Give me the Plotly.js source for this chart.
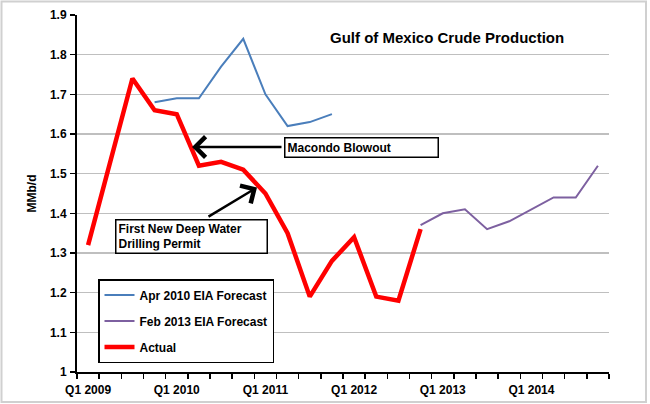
<!DOCTYPE html>
<html>
<head>
<meta charset="utf-8">
<script src="https://cdn.plot.ly/plotly-3.0.1.min.js"></script>
<style>
  html, body { margin: 0; padding: 0; background: #ffffff; }
  #chart { width: 650px; height: 404px; }
</style>
</head>
<body>
<div id="chart"></div>
<script>
// Quarterly categories, Q1 2009 .. Q4 2014
const quarters = [
  "Q1 2009", "Q2 2009", "Q3 2009", "Q4 2009",
  "Q1 2010", "Q2 2010", "Q3 2010", "Q4 2010",
  "Q1 2011", "Q2 2011", "Q3 2011", "Q4 2011",
  "Q1 2012", "Q2 2012", "Q3 2012", "Q4 2012",
  "Q1 2013", "Q2 2013", "Q3 2013", "Q4 2013",
  "Q1 2014", "Q2 2014", "Q3 2014", "Q4 2014"
];
const tickLabels = ["Q1 2009", "Q1 2010", "Q1 2011", "Q1 2012", "Q1 2013", "Q1 2014"];

// Gulf of Mexico crude production, million barrels per day
const actualQuarters = quarters.slice(0, 16);
const actual = [1.32, 1.53, 1.74, 1.66, 1.65, 1.52, 1.53, 1.51,
                1.45, 1.35, 1.19, 1.28, 1.34, 1.19, 1.18, 1.36];

const apr2010Quarters = quarters.slice(3, 12);
const apr2010Forecast = [1.68, 1.69, 1.69, 1.77, 1.84, 1.70, 1.62, 1.63, 1.65];

const feb2013Quarters = quarters.slice(15, 24);
const feb2013Forecast = [1.37, 1.40, 1.41, 1.36, 1.38, 1.41, 1.44, 1.44, 1.52];

const W = 650, H = 404;
const M = { l: 77, r: 41, t: 15, b: 32 };
const plotW = W - M.l - M.r, plotH = H - M.t - M.b;
// pixel -> paper helpers for the frame and text boxes
const px = x => (x - M.l) / plotW;
const py = y => (H - M.b - y) / plotH;

const FAMILY = "Liberation Sans, Arial, sans-serif";
const bold = size => ({ family: FAMILY, size: size, color: "#000000", weight: 700 });

const traces = [
  {
    x: apr2010Quarters, y: apr2010Forecast, name: "Apr 2010 EIA Forecast",
    type: "scatter", mode: "lines", legendgroup: "a",
    line: { color: "#4a7ebb", width: 2 }
  },
  {
    x: feb2013Quarters, y: feb2013Forecast, name: "Feb 2013 EIA Forecast",
    type: "scatter", mode: "lines", legendgroup: "b",
    line: { color: "#7d60a0", width: 2 }
  },
  {
    x: actualQuarters, y: actual, name: "Actual",
    type: "scatter", mode: "lines", legendgroup: "c",
    line: { color: "#ff0000", width: 4.5 }
  }
];

const layout = {
  width: W, height: H,
  margin: M,
  paper_bgcolor: "#ffffff", plot_bgcolor: "#ffffff",
  font: bold(12),
  showlegend: true,
  legend: {
    x: px(98), y: py(279), xanchor: "left", yanchor: "top",
    bgcolor: "#ffffff", bordercolor: "#000000", borderwidth: 1.5,
    font: bold(12),
    itemwidth: 30, tracegroupgap: 7, traceorder: "grouped"
  },
  xaxis: {
    type: "category",
    categoryorder: "array", categoryarray: quarters,
    range: [-0.5, quarters.length - 0.5],
    tickmode: "array",
    tickvals: quarters,
    ticktext: quarters.map(q => tickLabels.includes(q) ? q : ""),
    tickson: "boundaries",
    tickangle: 0,
    ticklabelstandoff: 6,
    ticks: "outside", ticklen: 5, tickwidth: 1.5, tickcolor: "#000000",
    showline: true, linecolor: "#000000", linewidth: 2,
    showgrid: false, zeroline: false,
    tickfont: bold(12),
    fixedrange: true
  },
  yaxis: {
    range: [1, 1.9], dtick: 0.1, tick0: 1,
    ticks: "outside", ticklen: 5, tickwidth: 1.5, tickcolor: "#000000",
    showline: true, linecolor: "#000000", linewidth: 2,
    showgrid: true, gridcolor: "#bfbfbf", gridwidth: 1.5,
    zeroline: false,
    tickfont: bold(12),
    ticklabelstandoff: 1,
    title: { text: "MMb/d", standoff: 11, font: bold(12) },
    fixedrange: true
  },
  shapes: [
    // outer chart frame
    {
      type: "rect", xref: "paper", yref: "paper",
      x0: px(1.5), x1: px(646), y0: py(402), y1: py(1.5),
      line: { color: "#d0d0d0", width: 2 }, fillcolor: "rgba(0,0,0,0)", layer: "below"
    }
  ],
  annotations: [
    {
      text: "Gulf of Mexico Crude Production",
      xref: "paper", yref: "paper", x: px(447), y: py(37),
      xanchor: "center", yanchor: "middle", showarrow: false,
      font: bold(15)
    },
    // Macondo Blowout callout
    {
      text: "Macondo Blowout",
      xref: "paper", yref: "paper", x: px(283.5), y: py(147),
      xanchor: "left", yanchor: "middle", align: "left", showarrow: false,
      width: 148, height: 14, borderpad: 2, borderwidth: 1.5,
      bordercolor: "#000000", bgcolor: "#ffffff",
      font: bold(12)
    },
    {
      text: "", xref: "paper", yref: "paper", axref: "pixel", ayref: "pixel",
      x: px(192), y: py(147), ax: 91, ay: 0,
      showarrow: true, arrowhead: 4, arrowsize: 1.6, arrowwidth: 2.5, arrowcolor: "#000000"
    },
    // First deep water permit callout
    {
      text: "First New Deep Water<br>Drilling Permit",
      xref: "paper", yref: "paper", x: px(114.5), y: py(236),
      xanchor: "left", yanchor: "middle", align: "left", showarrow: false,
      width: 146, height: 28, borderpad: 2, borderwidth: 1.5,
      bordercolor: "#000000", bgcolor: "#ffffff",
      font: bold(12)
    },
    {
      text: "", xref: "paper", yref: "paper", axref: "pixel", ayref: "pixel",
      x: px(257), y: py(187.5), ax: -50, ay: 30,
      showarrow: true, arrowhead: 4, arrowsize: 1.6, arrowwidth: 2.5, arrowcolor: "#000000"
    }
  ]
};

Plotly.newPlot("chart", traces, layout, { displayModeBar: false, staticPlot: true });
</script>
</body>
</html>
